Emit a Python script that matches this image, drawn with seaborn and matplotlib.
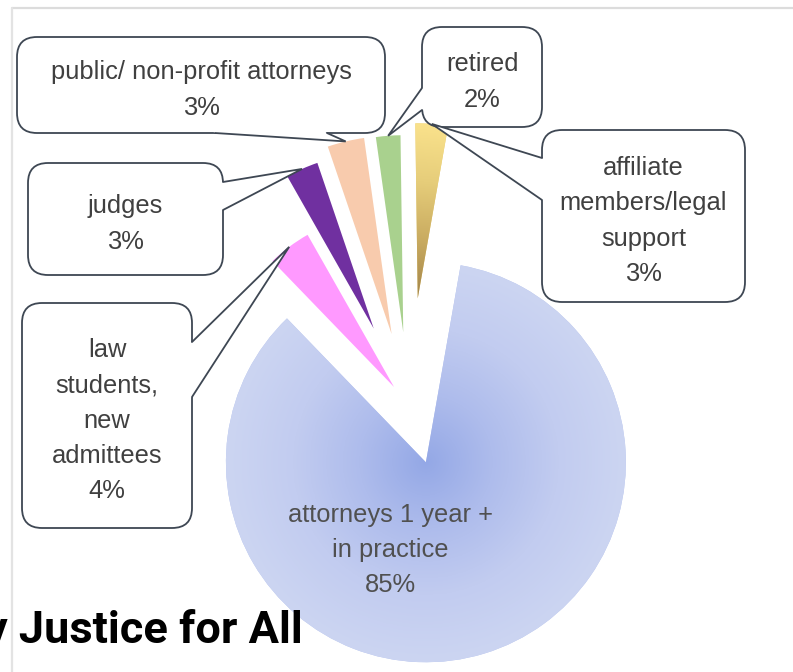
import numpy as np
import matplotlib
matplotlib.use("Agg")
import matplotlib.pyplot as plt
import seaborn as sns
from matplotlib.patches import FancyBboxPatch, Polygon
from matplotlib.colors import LinearSegmentedColormap
from matplotlib.lines import Line2D

# ---- data -------------------------------------------------------------
categories = [
    "attorneys 1 year +\nin practice",
    "law\nstudents,\nnew\nadmittees",
    "judges",
    "public/ non-profit attorneys",
    "retired",
    "affiliate\nmembers/legal\nsupport",
]
shares = [85, 4, 3, 3, 2, 3]

# ---- styling ----------------------------------------------------------
colors = ["#b4c2ee", "#ff99ff", "#7030a0", "#f8cbad", "#a9d18e", "#e9cf7c"]
radii = [1.0, 0.875, 0.875, 0.99, 0.985, 0.875]
explode = [0.289, 0.125, 0.43, 0.375, 0.375, 0.545]

sns.set_theme(style="white")
plt.rcParams["font.family"] = ["Liberation Sans", "DejaVu Sans"]

W, H = 793, 672
SCALE = 200.0           # pixels per pie-radius unit
OX, OY = 409, 407       # pie centre in pixels


def px(x, y):
    """pixel position (origin top-left) -> data coordinates"""
    return (x - OX) / SCALE, (OY - y) / SCALE


fig = plt.figure(figsize=(W / 100, H / 100), dpi=100)
fig.patch.set_facecolor("white")
ax = fig.add_axes([0, 0, 1, 1])

wedges = []
for i in range(len(shares)):
    w, _ = ax.pie(shares, radius=radii[i], explode=explode, startangle=80,
                  counterclock=False, colors=colors,
                  wedgeprops=dict(linewidth=0, antialiased=True))
    for j, wj in enumerate(w):
        if j != i:
            wj.remove()
    wedges.append(w[i])

# radial shading on the large slice
big = wedges[0]
cx, cy = big.center
r = big.r
n = 500
gx = np.linspace(cx - r, cx + r, n)
gy = np.linspace(cy - r, cy + r, n)
GX, GY = np.meshgrid(gx, gy)
D = np.clip(np.hypot(GX - cx, GY - cy) / r, 0, 1)
cmap_big = LinearSegmentedColormap.from_list(
    "attorneys", ["#94a8e6", "#aebcec", "#c2ccf0", "#ccd5f2"])
im = ax.imshow(D, cmap=cmap_big, vmin=0, vmax=1, origin="lower",
               extent=(cx - r, cx + r, cy - r, cy + r), zorder=1.5,
               interpolation="bilinear")
im.set_clip_path(big)

# linear shading on the affiliate slice (dark at the point, light outside)
gold = wedges[5]
gcx, gcy = gold.center
gr = gold.r
tm = np.deg2rad((gold.theta1 + gold.theta2) / 2)
ux, uy = np.cos(tm), np.sin(tm)
gx = np.linspace(gcx - gr, gcx + gr, n)
gy = np.linspace(gcy - gr, gcy + gr, n)
GX, GY = np.meshgrid(gx, gy)
T = np.clip(((GX - gcx) * ux + (GY - gcy) * uy) / gr, 0, 1)
cmap_gold = LinearSegmentedColormap.from_list(
    "affiliate", ["#a3854a", "#c9ab60", "#e6cd7a", "#fae28c"])
im2 = ax.imshow(T, cmap=cmap_gold, vmin=0, vmax=1, origin="lower",
                extent=(gcx - gr, gcx + gr, gcy - gr, gcy + gr), zorder=1.5,
                interpolation="bilinear")
im2.set_clip_path(gold)

TEXT = "#404040"
EDGE = "#3e4753"
FS = 18.4
LS = 1.58

# label inside the large slice
lx, ly = px(390, 550)
ax.text(lx, ly, f"{categories[0]}\n{shares[0]}%", ha="center", va="center",
        fontsize=FS, color="#505050", linespacing=LS, zorder=8)

# callout boxes: (left, top, right, bottom) in pixels and the two base points
boxes = {
    1: ((22, 303, 192, 528), ((192, 342), (192, 397))),
    2: ((28, 163, 223, 275), ((223, 182), (223, 210))),
    3: ((17, 37, 385, 133), ((215, 133), (327, 133))),
    4: ((422, 27, 542, 127), ((422, 88), (422, 110))),
    5: ((542, 130, 745, 302), ((542, 158), (542, 200))),
}

for i, ((x0, y0, x1, y1), (b1, b2)) in boxes.items():
    wdg = wedges[i]
    th = np.deg2rad((wdg.theta1 + wdg.theta2) / 2)
    tip = (wdg.center[0] + wdg.r * np.cos(th), wdg.center[1] + wdg.r * np.sin(th))

    left, top = px(x0, y0)
    right, bottom = px(x1, y1)
    box = FancyBboxPatch((left, bottom), right - left, top - bottom,
                         boxstyle=f"round,pad=0,rounding_size={20 / SCALE}",
                         fc="white", ec=EDGE, lw=1.3, zorder=5)
    ax.add_patch(box)

    p1 = np.array(px(*b1))
    p2 = np.array(px(*b2))
    mid = (p1 + p2) / 2
    centre = np.array([(left + right) / 2, (top + bottom) / 2])
    inward = centre - mid
    inward = inward / np.hypot(*inward) * (3 / SCALE)
    tail = Polygon([p1, tip, p2, p2 + inward, p1 + inward], closed=True,
                   fc="white", ec="none", zorder=6)
    ax.add_patch(tail)
    ax.plot([p1[0], tip[0], p2[0]], [p1[1], tip[1], p2[1]], color=EDGE,
            lw=1.3, zorder=7, solid_joinstyle="miter")

    ax.text((left + right) / 2, (top + bottom) / 2 - 5 / SCALE,
            f"{categories[i]}\n{shares[i]}%", ha="center", va="center",
            fontsize=FS, color=TEXT, linespacing=LS, zorder=8)

ax.set_xlim(-OX / SCALE, (W - OX) / SCALE)
ax.set_ylim(-(H - OY) / SCALE, OY / SCALE)
ax.set_aspect("auto")
ax.axis("off")

# page frame
fig.add_artist(Line2D([12 / W, 1], [1 - 8 / H, 1 - 8 / H], transform=fig.transFigure,
                      color="#dcdcdc", lw=1.6))
fig.add_artist(Line2D([12 / W, 12 / W], [0, 1 - 8 / H], transform=fig.transFigure,
                      color="#e3e3e3", lw=1.6))

# heading below the chart
fig.text(-15 / W, (H - 643) / H, "y Justice for All", fontsize=32.5,
         fontweight="bold", family=["Roboto", "DejaVu Sans"], color="black",
         ha="left", va="baseline")

fig.savefig("out.png", dpi=100, facecolor="white")
